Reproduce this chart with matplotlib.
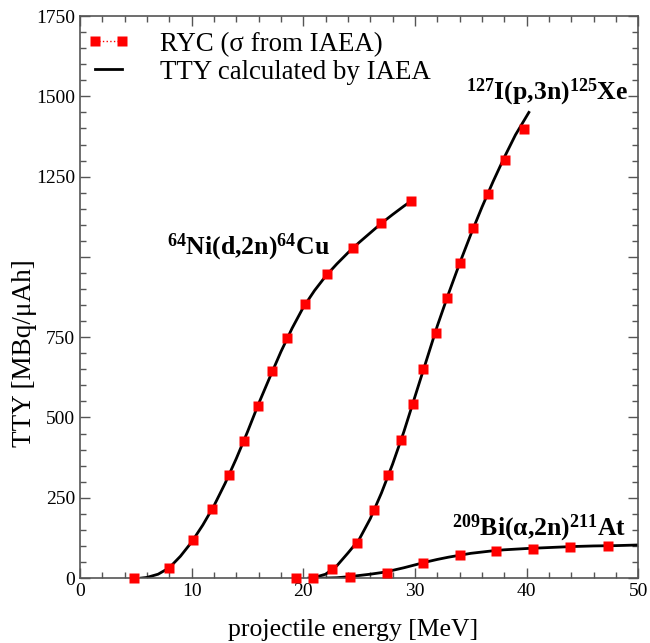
import numpy as np
import matplotlib
matplotlib.use("Agg")
import matplotlib.pyplot as plt
from matplotlib.lines import Line2D
from matplotlib.ticker import MultipleLocator

plt.rcParams['font.family'] = ['Liberation Serif', 'DejaVu Serif']
plt.rcParams['mathtext.fontset'] = 'custom'
plt.rcParams['mathtext.rm'] = 'Liberation Serif'
plt.rcParams['mathtext.bf'] = 'Liberation Serif:bold'

# RYC points (sigma from IAEA)
cu_ryc_e = [4.8, 8.0, 10.15, 11.85, 13.35, 14.7, 15.92, 17.23, 18.58, 20.16, 22.16, 24.49, 26.94, 29.63]
cu_ryc_y = [0, 32, 118, 215, 321, 428, 537, 644, 748, 852, 946, 1029, 1105, 1173]
i_ryc_e = [19.35, 20.9, 22.6, 24.8, 26.34, 27.63, 28.74, 29.78, 30.76, 31.87, 32.91, 34.05, 35.24, 36.53, 38.08, 39.78]
i_ryc_y = [0, 0, 27, 110, 212, 321, 431, 542, 651, 762, 873, 982, 1091, 1195, 1302, 1398]
bi_ryc_e = [24.19, 27.54, 30.76, 33.99, 37.25, 40.57, 43.91, 47.25]
bi_ryc_y = [4, 17, 46, 71, 85, 92, 98, 100]

# TTY calculated by IAEA
cu_tty_e = [5.5, 6, 7, 8, 9, 10, 11, 12, 13, 14, 15, 16, 17, 18, 19, 20, 21, 22, 23, 24, 25, 26, 27, 28, 29, 29.9]
cu_tty_y = [0, 2, 12, 32, 68, 112, 165, 225, 295, 372, 455, 543, 625, 705, 778, 843, 895, 940, 978, 1013, 1045, 1075, 1105, 1132, 1158, 1180]
i_tty_e = [20.5, 21, 22, 23, 24, 25, 26, 27, 28, 29, 30, 31, 32, 33, 34, 35, 36, 37, 38, 39, 40.2]
i_tty_y = [0, 2, 12, 38, 78, 120, 185, 265, 355, 455, 565, 675, 785, 885, 980, 1070, 1155, 1235, 1310, 1380, 1450]
bi_tty_e = [21, 22, 23, 24, 25, 26, 27, 28, 29, 30, 31, 32, 33, 34, 35, 36, 37, 38, 40, 42, 44, 46, 48, 50]
bi_tty_y = [0, 0, 1, 4, 8, 12, 17, 24, 32, 41, 50, 58, 65, 71, 77, 81, 85, 88, 92, 95, 98, 100, 101, 103]

fig = plt.figure(figsize=(6.5, 6.43), dpi=100)
ax = fig.add_axes([0.123, 0.101, 0.859, 0.874])

for e, y in [(cu_tty_e, cu_tty_y), (i_tty_e, i_tty_y), (bi_tty_e, bi_tty_y)]:
    ax.plot(e, y, color='black', lw=2.0, zorder=2)
for e, y in [(cu_ryc_e, cu_ryc_y), (i_ryc_e, i_ryc_y), (bi_ryc_e, bi_ryc_y)]:
    ax.plot(e, y, ls='none', marker='s', ms=7, color='#ff0000', mec='none', zorder=3, clip_on=False)

ax.set_xlim(0, 50)
ax.set_ylim(0, 1750)
ax.xaxis.set_major_locator(MultipleLocator(10))
ax.xaxis.set_minor_locator(MultipleLocator(2))
ax.yaxis.set_minor_locator(MultipleLocator(50))
ax.set_yticks([0, 250, 500, 750, 1000, 1250, 1500, 1750])
ax.set_yticklabels(['0', '250', '500', '750', '', '1250', '1500', '1750'])

ax.tick_params(which='both', direction='in', top=True, right=True, color='#555555', labelsize=14)
ax.tick_params(which='major', length=7, width=1)
ax.tick_params(which='minor', length=4, width=1)
for s in ax.spines.values():
    s.set_color('#555555')
    s.set_linewidth(1.2)

ax.set_xlabel('projectile energy [MeV]', fontsize=18.5)
ax.xaxis.set_label_coords(0.49, -0.072)
ax.set_ylabel('TTY [MBq/μAh]', fontsize=19.5)
ax.yaxis.set_label_coords(-0.077, 0.40)

ax.text(7.8, 1030, r'$\mathbf{^{64}}$Ni(d,2n)$\mathbf{^{64}}$Cu', fontsize=18.5, fontweight='bold', va='center', ha='left')
ax.text(34.6, 1512, r'$\mathbf{^{127}}$I(p,3n)$\mathbf{^{125}}$Xe', fontsize=18.5, fontweight='bold', va='center', ha='left')
ax.text(33.3, 155, r'$\mathbf{^{209}}$Bi(α,2n)$\mathbf{^{211}}$At', fontsize=18.5, fontweight='bold', va='center', ha='left')

handles = [Line2D([], [], color='#ff0000', ls=':', lw=1, marker='s', ms=7, mec='none'),
           Line2D([], [], color='black', lw=2.0)]
ax.legend(handles, ['RYC (σ from IAEA)', 'TTY calculated by IAEA'], loc='upper left',
          bbox_to_anchor=(0.0125, 0.972), frameon=False, fontsize=19.4, numpoints=2,
          handlelength=1.6, handletextpad=1.1, borderaxespad=0, borderpad=0, labelspacing=0.1)

fig.savefig('out.png', dpi=100)
